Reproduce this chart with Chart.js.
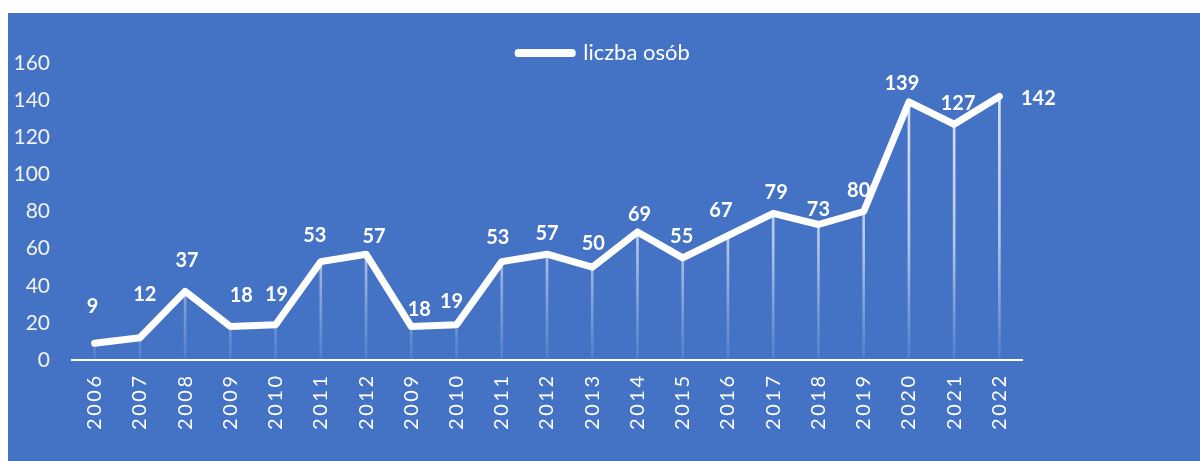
<!DOCTYPE html>
<html>
<head>
<meta charset="utf-8">
<script src="https://cdn.jsdelivr.net/npm/chart.js@4.4.1/dist/chart.umd.min.js"></script>
<style>
  html, body { margin: 0; padding: 0; background: #fff; }
  #wrap { position: relative; width: 1200px; height: 461px; }
</style>
</head>
<body>
<div id="wrap"><canvas id="myChart" width="1200" height="461"></canvas></div>
<script>
'use strict';

// dane z wykresu
var years = ['2006', '2007', '2008', '2009', '2010', '2011', '2012', '2009', '2010', '2011', '2012',
  '2013', '2014', '2015', '2016', '2017', '2018', '2019', '2020', '2021', '2022'];
var people = [9, 12, 37, 18, 19, 53, 57, 18, 19, 53, 57, 50, 69, 55, 67, 79, 73, 80, 139, 127, 142];
var seriesName = 'liczba osób';
var yTicks = [0, 20, 40, 60, 80, 100, 120, 140, 160];

// przesunięcia etykiet danych (jak w oryginale, ręcznie przesunięte)
var labelNudge = [[-2, -37], [5, -43], [2, -31], [11, -31], [1, -30], [-6, -26], [8, -18],
  [8, -17], [-5, -23], [-4, -24], [0, -21], [1, -24], [2, -17], [-1, -21], [-7, -25],
  [3, -21], [0, -15], [-5, -21], [-7, -18], [4, -21], [39, 2]];

var BLUE = '#4472C4';
var FONT = 'Lato, "Liberation Sans", sans-serif';

// niebieskie tło wykresu
var bgPlugin = {
  id: 'bg',
  beforeDraw: function(chart) {
    var ctx = chart.ctx;
    ctx.save();
    ctx.fillStyle = BLUE;
    ctx.fillRect(8, 13, chart.width - 8, chart.height - 13);
    ctx.restore();
  }
};

// etykiety wartości nad punktami
var valueLabels = {
  id: 'valueLabels',
  afterDatasetsDraw: function(chart) {
    var ctx = chart.ctx;
    var meta = chart.getDatasetMeta(0);
    ctx.save();
    ctx.font = 'bold 20px ' + FONT;
    ctx.fillStyle = '#fff';
    ctx.textAlign = 'center';
    ctx.textBaseline = 'middle';
    meta.data.forEach(function(pt, i) {
      var n = labelNudge[i] || [0, -22];
      ctx.fillText(String(people[i]), pt.x + n[0], pt.y + n[1]);
    });
    ctx.restore();
  }
};

function dropLineColor(c) {
  var area = c.chart.chartArea;
  if (!area) return 'rgba(255,255,255,0.5)';
  var g = c.chart.ctx.createLinearGradient(0, area.top, 0, area.bottom);
  g.addColorStop(0, 'rgba(255,255,255,0.85)');
  g.addColorStop(0.6, 'rgba(255,255,255,0.6)');
  g.addColorStop(1, 'rgba(255,255,255,0.08)');
  return g;
}

var ctx = document.getElementById('myChart').getContext('2d');
var myChart = new Chart(ctx, {
  type: 'line',
  data: {
    labels: years,
    datasets: [{
      label: seriesName,
      data: people,
      borderColor: '#fff',
      backgroundColor: '#fff',
      borderWidth: 7,
      borderJoinStyle: 'round',
      borderCapStyle: 'round',
      pointRadius: 0,
      tension: 0,
      order: 0
    }, {
      type: 'bar',
      label: 'drop',
      data: people,
      backgroundColor: dropLineColor,
      barThickness: 2,
      order: 1
    }]
  },
  options: {
    responsive: false,
    animation: false,
    layout: { padding: { left: 8, top: 42, right: 0, bottom: 0 } },
    plugins: {
      tooltip: { enabled: false },
      legend: {
        position: 'top',
        maxHeight: 21,
        labels: {
          color: '#fff',
          font: { family: FONT, size: 22 },
          boxWidth: 54,
          boxHeight: 1,
          padding: 0,
          filter: function(item) { return item.datasetIndex === 0; }
        }
      }
    },
    scales: {
      x: {
        offset: true,
        grid: { display: false, drawTicks: false },
        border: { display: true, color: '#fff', width: 2 },
        ticks: {
          color: '#fff',
          font: { family: FONT, size: 20 },
          minRotation: 90,
          maxRotation: 90,
          padding: 16,
          autoSkip: false,
          callback: function(v, i) { return years[i].split('').join('\u2009'); }
        },
        afterFit: function(s) { s.height = 101; }
      },
      y: {
        min: 0,
        max: 160,
        grid: { display: false, drawTicks: false },
        border: { display: false },
        afterBuildTicks: function(s) { s.ticks = yTicks.map(function(v) { return { value: v }; }); },
        ticks: {
          color: '#f2f2f2',
          font: { family: FONT, size: 21 },
          padding: 22
        },
        afterFit: function(s) { s.width = 64; }
      },
      yRight: {
        position: 'right',
        display: true,
        grid: { display: false, drawTicks: false },
        border: { display: false },
        ticks: { display: false },
        afterFit: function(s) { s.width = 178; }
      }
    }
  },
  plugins: [bgPlugin, valueLabels]
});
</script>
</body>
</html>
